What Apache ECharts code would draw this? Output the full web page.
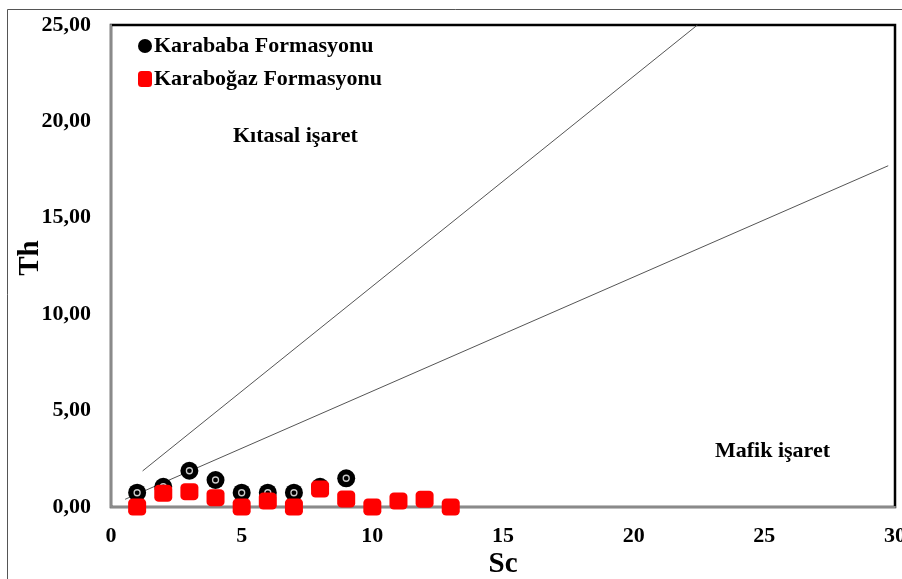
<!DOCTYPE html>
<html>
<head>
<meta charset="utf-8">
<script src="https://cdn.jsdelivr.net/npm/echarts@6/dist/echarts.min.js"></script>
<style>html,body{margin:0;padding:0;background:#fff;}#c{width:902px;height:579px;}</style>
</head>
<body>
<div id="c"></div>
<script>
// Data
const karababaSc = [1, 2, 3, 4, 5, 6, 7, 8, 9];
const karababaTh = [0.74, 1.05, 1.88, 1.40, 0.74, 0.74, 0.74, 1.05, 1.49];
const karabogazSc = [1, 2, 3, 4, 5, 6, 7, 8, 9, 10, 11, 12, 13];
const karabogazTh = [0.0, 0.71, 0.79, 0.48, 0.0, 0.31, 0.0, 0.93, 0.41, 0.0, 0.31, 0.40, 0.0];
const line1 = [[1.21, 1.87], [22.44, 25.0]];
const line2 = [[0.54, 0.40], [29.74, 17.70]];
const xTicks = [0, 5, 10, 15, 20, 25, 30];
const yTickLabels = ['0,00', '5,00', '10,00', '15,00', '20,00', '25,00'];
const seriesNames = ['Karababa Formasyonu', 'Karaboğaz Formasyonu'];
const regionLabels = ['Kıtasal işaret', 'Mafik işaret'];

const FONT = "'Liberation Serif', 'Times New Roman', serif";
const pair = (xs, ys) => xs.map((x, i) => [x, ys[i]]);

const chart = echarts.init(document.getElementById('c'), null, {renderer: 'canvas'});
chart.setOption({
  animation: false,
  backgroundColor: '#fff',
  grid: {left: 111, right: 7, top: 25, bottom: 72, show: true, borderColor: '#000', borderWidth: 2.5,
    backgroundColor: 'transparent', containLabel: false, outerBoundsMode: 'none'},
  xAxis: {
    type: 'value', min: 0, max: 30, interval: 5,
    name: 'Sc', nameLocation: 'middle', nameGap: 43, nameMoveOverlap: false,
    nameTextStyle: {fontFamily: FONT, fontWeight: 'bold', fontSize: 29, color: '#000'},
    axisLine: {show: true, onZero: false, lineStyle: {color: '#8a8a8a', width: 2}},
    axisTick: {show: false},
    splitLine: {show: false},
    axisLabel: {margin: 18, fontFamily: FONT, fontWeight: 'bold', fontSize: 22, color: '#000',
      formatter: v => String(xTicks[xTicks.indexOf(v)])}
  },
  yAxis: {
    type: 'value', min: 0, max: 25, interval: 5,
    name: 'Th', nameLocation: 'middle', nameGap: 66, nameRotate: 90, nameMoveOverlap: false,
    nameTextStyle: {fontFamily: FONT, fontWeight: 'bold', fontSize: 29, color: '#000', padding: [0, 0, 0, 16]},
    axisLine: {show: true, onZero: false, lineStyle: {color: '#8a8a8a', width: 2}},
    axisTick: {show: false},
    splitLine: {show: false},
    axisLabel: {margin: 20, fontFamily: FONT, fontWeight: 'bold', fontSize: 22, color: '#000',
      formatter: v => yTickLabels[Math.round(v / 5)]}
  },
  legend: {
    orient: 'vertical', left: 133, top: 30, itemGap: 11,
    itemWidth: 14, itemHeight: 16,
    data: seriesNames,
    textStyle: {fontFamily: FONT, fontWeight: 'bold', fontSize: 22, color: '#000', padding: [0, 0, 0, -3]}
  },
  graphic: [
    {type: 'rect', silent: true, z: -10, shape: {x: 7.5, y: 9.5, width: 1000, height: 1000},
      style: {fill: 'none', stroke: '#555', lineWidth: 1}},
    {type: 'text', left: 233, top: 125, style: {text: regionLabels[0], font: "bold 22px " + FONT, fill: '#000'}},
    {type: 'text', left: 715, top: 440, style: {text: regionLabels[1], font: "bold 22px " + FONT, fill: '#000'}}
  ],
  series: [
    {type: 'line', data: line1, symbol: 'none', silent: true, lineStyle: {color: '#555', width: 1}, z: 1},
    {type: 'line', data: line2, symbol: 'none', silent: true, lineStyle: {color: '#555', width: 1}, z: 1},
    {name: seriesNames[0], type: 'scatter', data: pair(karababaSc, karababaTh), symbol: 'circle', symbolSize: 18,
      itemStyle: {color: '#000', opacity: 1}, z: 2},
    {type: 'scatter', data: pair(karababaSc, karababaTh), symbol: 'circle', symbolSize: 6, silent: true,
      itemStyle: {color: '#000', borderColor: '#ccc', borderWidth: 1.3, opacity: 1}, z: 3},
    {name: seriesNames[1], type: 'scatter', data: pair(karabogazSc, karabogazTh), symbol: 'roundRect', symbolSize: [18, 17],
      itemStyle: {color: '#ff0000', opacity: 1}, z: 4}
  ]
});
</script>
</body>
</html>
